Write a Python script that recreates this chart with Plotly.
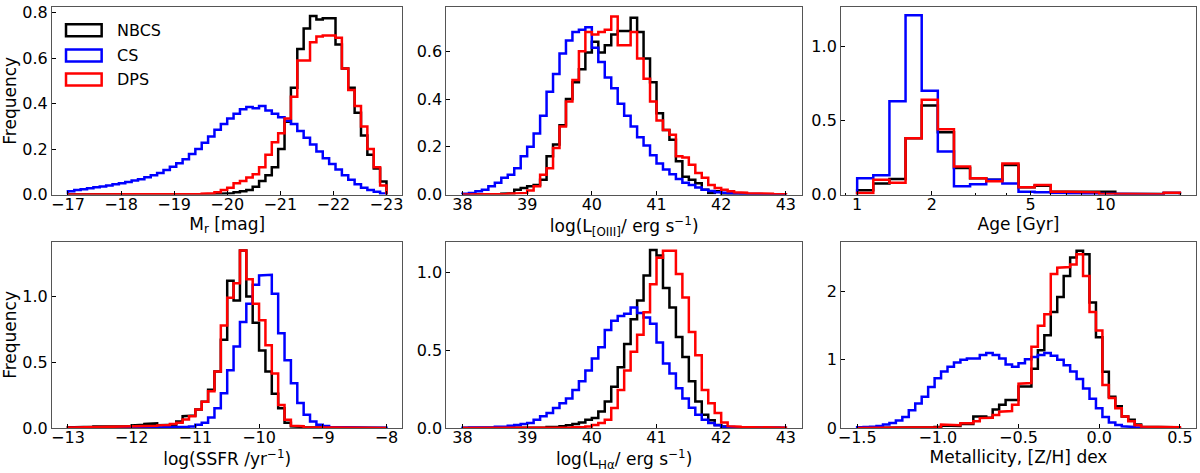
import numpy as np
import plotly.graph_objects as go
from plotly.subplots import make_subplots

# sample names / colours (drawn in this order: black, blue, red on top)
SAMPLES = ["NBCS", "CS", "DPS"]
COLORS = {"NBCS": "black", "CS": "blue", "DPS": "red"}

# ---- panel 1: absolute r magnitude, 50 bins -17 .. -23
MR_EDGES = np.linspace(-17, -23, 51)
MR_NBCS = [0.0, 0.0, 0.0, 0.0, 0.0, 0.0, 0.001, 0.0, 0.001, 0.0,
           0.001, 0.001, 0.0, 0.001, 0.001, 0.001, 0.001, 0.002, 0.001, 0.002,
           0.002, 0.002, 0.003, 0.003, 0.004, 0.006, 0.01, 0.015, 0.02, 0.035,
           0.06, 0.085, 0.12, 0.2, 0.32, 0.47, 0.64, 0.73, 0.785, 0.77,
           0.775, 0.775, 0.66, 0.555, 0.47, 0.36, 0.26, 0.175, 0.115, 0.058]
MR_CS = [0.015, 0.02, 0.024, 0.028, 0.032, 0.036, 0.04, 0.045, 0.05, 0.055,
         0.062, 0.068, 0.076, 0.085, 0.095, 0.108, 0.122, 0.138, 0.155, 0.178,
         0.2, 0.228, 0.255, 0.285, 0.31, 0.335, 0.355, 0.375, 0.385, 0.38,
         0.39, 0.37, 0.355, 0.34, 0.325, 0.31, 0.28, 0.25, 0.22, 0.19,
         0.16, 0.135, 0.11, 0.085, 0.065, 0.045, 0.03, 0.02, 0.012, 0.005]
MR_DPS = [0.0, 0.001, 0.0, 0.001, 0.001, 0.001, 0.001, 0.001, 0.001, 0.001,
          0.001, 0.001, 0.002, 0.001, 0.002, 0.002, 0.002, 0.002, 0.003, 0.003,
          0.003, 0.004, 0.006, 0.01, 0.02, 0.03, 0.05, 0.06, 0.075, 0.09,
          0.12, 0.175, 0.23, 0.27, 0.335, 0.43, 0.59, 0.59, 0.67, 0.695,
          0.70, 0.70, 0.69, 0.555, 0.46, 0.39, 0.30, 0.2, 0.12, 0.04]

# ---- panel 2: log L[OIII], 50 bins 38 .. 43
OIII_EDGES = np.linspace(38, 43, 51)
OIII_NBCS = [0.0, 0.0, 0.0, 0.0, 0.002, 0.003, 0.004, 0.005, 0.02, 0.028,
             0.035, 0.04, 0.062, 0.16, 0.21, 0.29, 0.40, 0.47, 0.525, 0.595,
             0.64, 0.595, 0.625, 0.67, 0.685, 0.685, 0.74, 0.68, 0.57, 0.47,
             0.34, 0.27, 0.23, 0.14, 0.075, 0.062, 0.048, 0.02, 0.007, 0.014,
             0.003, 0.004, 0.003, 0.002, 0.002, 0.002, 0.002, 0.001, 0.001, 0.001]
OIII_CS = [0.004, 0.007, 0.014, 0.02, 0.035, 0.05, 0.07, 0.083, 0.11, 0.16,
           0.2, 0.256, 0.33, 0.43, 0.505, 0.59, 0.645, 0.68, 0.69, 0.70,
           0.615, 0.555, 0.49, 0.445, 0.38, 0.33, 0.285, 0.24, 0.205, 0.165,
           0.13, 0.105, 0.085, 0.065, 0.05, 0.04, 0.03, 0.02, 0.015, 0.01,
           0.008, 0.006, 0.005, 0.004, 0.003, 0.002, 0.002, 0.001, 0.001, 0.001]
OIII_DPS = [0.0, 0.0, 0.0, 0.0, 0.0, 0.002, 0.003, 0.004, 0.005, 0.007,
            0.017, 0.035, 0.083, 0.11, 0.195, 0.285, 0.39, 0.48, 0.6, 0.68,
            0.67, 0.68, 0.69, 0.745, 0.625, 0.625, 0.68, 0.57, 0.485, 0.39,
            0.31, 0.27, 0.25, 0.16, 0.155, 0.125, 0.09, 0.07, 0.04, 0.028,
            0.02, 0.014, 0.01, 0.008, 0.006, 0.005, 0.007, 0.004, 0.003, 0.002]

# ---- panel 3: stellar age, 20 log bins 1 .. 20 Gyr
AGE_EDGES = np.logspace(0, 1.3, 21)
AGE_NBCS = [0.03, 0.075, 0.105, 0.38, 0.60, 0.42, 0.18, 0.11, 0.1, 0.2,
            0.05, 0.06, 0.02, 0.02, 0.02, 0.02, 0.005, 0.004, 0.004, 0.01]
AGE_CS = [0.11, 0.13, 0.63, 1.21, 0.70, 0.29, 0.056, 0.07, 0.10, 0.075,
          0.02, 0.015, 0.01, 0.008, 0.005, 0.004, 0.003, 0.003, 0.003, 0.01]
AGE_DPS = [0.01, 0.10, 0.08, 0.38, 0.64, 0.44, 0.19, 0.11, 0.09, 0.21,
           0.05, 0.065, 0.02, 0.02, 0.015, 0.005, 0.005, 0.003, 0.003, 0.012]
AGE_TICKS = [1, 2, 5, 10]
AGE_MINOR = [0.9, 3, 4, 6, 7, 8, 9, 20]

# ---- panel 4: log SSFR, 50 bins -13 .. -8
SSFR_EDGES = np.linspace(-13, -8, 51)
SSFR_NBCS = [0.005, 0.005, 0.008, 0.01, 0.012, 0.01, 0.01, 0.012, 0.015, 0.012,
             0.02, 0.025, 0.03, 0.035, 0.02, 0.02, 0.025, 0.05, 0.09, 0.095,
             0.14, 0.2, 0.29, 0.43, 0.67, 1.12, 0.97, 1.35, 1.0, 0.8,
             0.59, 0.43, 0.26, 0.15, 0.04, 0.013, 0.008, 0.005, 0.003, 0.003,
             0.002, 0.002, 0.001, 0.001, 0.001, 0.001, 0.0, 0.0, 0.0, 0.0]
SSFR_CS = [0.0, 0.0, 0.0, 0.0, 0.0, 0.001, 0.001, 0.001, 0.001, 0.001,
           0.002, 0.002, 0.003, 0.004, 0.005, 0.006, 0.007, 0.008, 0.01, 0.012,
           0.025, 0.04, 0.08, 0.15, 0.265, 0.44, 0.62, 0.805, 0.945, 1.09,
           1.16, 1.165, 1.02, 0.72, 0.515, 0.34, 0.19, 0.1, 0.05, 0.025,
           0.015, 0.008, 0.006, 0.005, 0.004, 0.003, 0.003, 0.002, 0.002, 0.001]
SSFR_DPS = [0.003, 0.004, 0.005, 0.005, 0.006, 0.007, 0.008, 0.008, 0.009, 0.01,
            0.012, 0.013, 0.015, 0.017, 0.02, 0.022, 0.03, 0.04, 0.065, 0.09,
            0.14, 0.2, 0.28, 0.43, 0.78, 0.99, 1.1, 1.35, 1.13, 0.945,
            0.82, 0.63, 0.415, 0.175, 0.063, 0.018, 0.013, 0.005, 0.003, 0.002,
            0.002, 0.001, 0.001, 0.001, 0.0, 0.0, 0.0, 0.0, 0.0, 0.0]

# ---- panel 5: log L(Halpha), 50 bins 38 .. 43
HA_EDGES = np.linspace(38, 43, 51)
HA_NBCS = [0.0, 0.0, 0.0, 0.0, 0.0, 0.0, 0.0, 0.001, 0.001, 0.001,
           0.002, 0.003, 0.004, 0.006, 0.008, 0.012, 0.018, 0.025, 0.035, 0.053,
           0.064, 0.106, 0.17, 0.266, 0.39, 0.54, 0.70, 0.82, 0.98, 1.145,
           1.11, 0.9, 0.775, 0.585, 0.457, 0.3, 0.17, 0.085, 0.05, 0.02,
           0.01, 0.005, 0.004, 0.003, 0.002, 0.002, 0.001, 0.001, 0.001, 0.0]
HA_CS = [0.002, 0.003, 0.003, 0.004, 0.005, 0.008, 0.01, 0.015, 0.02, 0.025,
         0.032, 0.053, 0.075, 0.096, 0.128, 0.16, 0.19, 0.245, 0.3, 0.37,
         0.447, 0.52, 0.63, 0.69, 0.72, 0.735, 0.775, 0.74, 0.71, 0.67,
         0.55, 0.415, 0.35, 0.255, 0.19, 0.13, 0.085, 0.053, 0.032, 0.017,
         0.01, 0.006, 0.004, 0.003, 0.003, 0.002, 0.002, 0.001, 0.001, 0.001]
HA_DPS = [0.0, 0.0, 0.0, 0.0, 0.0, 0.0, 0.0, 0.0, 0.0, 0.0,
          0.0, 0.0, 0.0, 0.0, 0.0, 0.002, 0.003, 0.005, 0.007, 0.01,
          0.02, 0.032, 0.053, 0.128, 0.245, 0.37, 0.49, 0.6, 0.745, 0.925,
          1.095, 1.14, 1.14, 0.99, 0.84, 0.617, 0.468, 0.245, 0.16, 0.096,
          0.035, 0.012, 0.008, 0.006, 0.005, 0.004, 0.004, 0.003, 0.003, 0.002]

# ---- panel 6: metallicity [Z/H], 50 bins -1.5 .. 0.5
ZH_EDGES = np.linspace(-1.5, 0.5, 51)
ZH_NBCS = [0.0, 0.0, 0.0, 0.0, 0.0, 0.001, 0.001, 0.002, 0.003, 0.004,
           0.005, 0.01, 0.015, 0.035, 0.025, 0.03, 0.06, 0.06, 0.17, 0.17,
           0.15, 0.27, 0.34, 0.41, 0.41, 0.61, 0.61, 0.87, 1.14, 1.36,
           1.7, 1.92, 2.23, 2.5, 2.6, 2.55, 1.84, 1.33, 0.825, 0.46,
           0.32, 0.17, 0.12, 0.05, 0.02, 0.015, 0.01, 0.01, 0.01, 0.005]
ZH_CS = [0.01, 0.015, 0.02, 0.03, 0.05, 0.075, 0.11, 0.16, 0.26, 0.36,
         0.46, 0.6, 0.73, 0.83, 0.9, 0.96, 1.0, 1.02, 1.02, 1.07,
         1.1, 1.07, 1.02, 0.93, 0.9, 0.95, 1.01, 1.04, 1.07, 1.1,
         1.06, 1.0, 0.92, 0.83, 0.72, 0.58, 0.43, 0.29, 0.16, 0.08,
         0.045, 0.025, 0.015, 0.01, 0.006, 0.004, 0.003, 0.002, 0.002, 0.001]
ZH_DPS = [0.0, 0.0, 0.0, 0.0, 0.0, 0.0, 0.0, 0.001, 0.001, 0.002,
          0.003, 0.005, 0.01, 0.05, 0.04, 0.04, 0.07, 0.07, 0.1, 0.145,
          0.15, 0.19, 0.24, 0.25, 0.34, 0.65, 0.66, 1.19, 1.5, 1.67,
          2.26, 2.35, 2.36, 2.4, 2.55, 2.23, 1.7, 1.43, 0.63, 0.44,
          0.29, 0.17, 0.1, 0.04, 0.02, 0.015, 0.015, 0.015, 0.01, 0.01]

PANELS = [
    (1, 1, MR_EDGES, {"NBCS": MR_NBCS, "CS": MR_CS, "DPS": MR_DPS}),
    (1, 2, OIII_EDGES, {"NBCS": OIII_NBCS, "CS": OIII_CS, "DPS": OIII_DPS}),
    (1, 3, AGE_EDGES, {"NBCS": AGE_NBCS, "CS": AGE_CS, "DPS": AGE_DPS}),
    (2, 1, SSFR_EDGES, {"NBCS": SSFR_NBCS, "CS": SSFR_CS, "DPS": SSFR_DPS}),
    (2, 2, HA_EDGES, {"NBCS": HA_NBCS, "CS": HA_CS, "DPS": HA_DPS}),
    (2, 3, ZH_EDGES, {"NBCS": ZH_NBCS, "CS": ZH_CS, "DPS": ZH_DPS}),
]


def step_outline(edges, vals):
    # matplotlib histtype='step' style outline
    xs, ys = [edges[0]], [0.0]
    for i, v in enumerate(vals):
        xs += [edges[i], edges[i + 1]]
        ys += [v, v]
    xs.append(edges[-1])
    ys.append(0.0)
    return xs, ys


FONT = "DejaVu Sans"

fig = make_subplots(rows=2, cols=3)

for row, col, edges, hists in PANELS:
    for name in SAMPLES:
        xs, ys = step_outline(edges, hists[name])
        fig.add_trace(go.Scatter(
            x=xs, y=ys, mode="lines", name=name,
            line=dict(color=COLORS[name], width=2.5),
            showlegend=False, hoverinfo="skip",
        ), row=row, col=col)

axis_style = dict(
    showline=True, linecolor="#555555", linewidth=1, mirror=True,
    ticks="inside", ticklen=4, tickcolor="black", tickwidth=1,
    showgrid=False, zeroline=False,
    tickfont=dict(family=FONT, size=16, color="black"),
)
title_font = dict(family=FONT, size=17, color="black")

xdom = [[0.0, 0.3063], [0.3447, 0.6556], [0.6897, 1.0]]
ydom = [[0.5544, 1.0], [0.0, 0.4421]]

for k in range(6):
    r, c = divmod(k, 3)
    sfx = "" if k == 0 else str(k + 1)
    fig.layout["xaxis" + sfx].update(domain=xdom[c], ticklabelstandoff=-5, **axis_style)
    fig.layout["yaxis" + sfx].update(domain=ydom[r], **axis_style)

xt = dict(font=title_font, standoff=0)

# x axes
fig.update_xaxes(row=1, col=1, range=[-16.7, -23.3], tickvals=[-17, -18, -19, -20, -21, -22, -23],
                 title=dict(text="M<sub>r</sub> [mag]", **xt))
fig.update_xaxes(row=1, col=2, range=[37.75, 43.25], dtick=1,
                 title=dict(text="log(L<sub>[OIII]</sub>/ erg s<sup>−1</sup>)", **xt))
fig.update_xaxes(row=1, col=3, type="log", range=[-0.065, 1.365],
                 tickvals=AGE_TICKS, ticktext=[str(t) for t in AGE_TICKS],
                 minor=dict(tickvals=AGE_MINOR, ticks="inside", ticklen=2,
                            tickcolor="black", showgrid=False),
                 title=dict(text="Age [Gyr]", **xt))
fig.update_xaxes(row=2, col=1, range=[-13.25, -7.75], dtick=1,
                 title=dict(text="log(SSFR /yr<sup>−1</sup>)", **xt))
fig.update_xaxes(row=2, col=2, range=[37.75, 43.25], dtick=1,
                 title=dict(text="log(L<sub>Hα</sub>/ erg s<sup>−1</sup>)", **xt))
fig.update_xaxes(row=2, col=3, range=[-1.6, 0.6], dtick=0.5, tickformat=".1f",
                 title=dict(text="Metallicity, [Z/H] dex", **xt))

# y axes
fig.update_yaxes(row=1, col=1, range=[0, 0.825], dtick=0.2, tickformat=".1f",
                 title=dict(text="Frequency", font=title_font, standoff=4))
fig.update_yaxes(row=1, col=2, range=[0, 0.785], dtick=0.2, tickformat=".1f")
fig.update_yaxes(row=1, col=3, range=[0, 1.265], dtick=0.5, tickformat=".1f")
fig.update_yaxes(row=2, col=1, range=[0, 1.415], dtick=0.5, tickformat=".1f",
                 title=dict(text="Frequency", font=title_font, standoff=4))
fig.update_yaxes(row=2, col=2, range=[0, 1.197], dtick=0.5, tickformat=".1f")
fig.update_yaxes(row=2, col=3, range=[0, 2.73], dtick=1)

# legend drawn inside the first panel (outlined patches like matplotlib)
legend_rows = [0.876, 0.741, 0.614]
for name, yc in zip(SAMPLES, legend_rows):
    fig.add_shape(type="rect", xref="x domain", yref="y domain",
                  x0=0.040, x1=0.1417, y0=yc - 0.032, y1=yc + 0.032,
                  line=dict(color=COLORS[name], width=2.5), fillcolor="rgba(0,0,0,0)")
    fig.add_annotation(xref="x domain", yref="y domain", x=0.1796, y=yc,
                       text=name, showarrow=False, xanchor="left", yanchor="middle",
                       font=dict(family=FONT, size=16, color="black"))

fig.update_layout(
    width=1200, height=473,
    margin=dict(l=52, r=3, t=5, b=45),
    paper_bgcolor="white", plot_bgcolor="white",
    font=dict(family=FONT, size=16, color="black"),
    showlegend=False,
)

fig.write_html("out.html", config={"displayModeBar": False},
               post_script="document.body.style.margin='0px';")
